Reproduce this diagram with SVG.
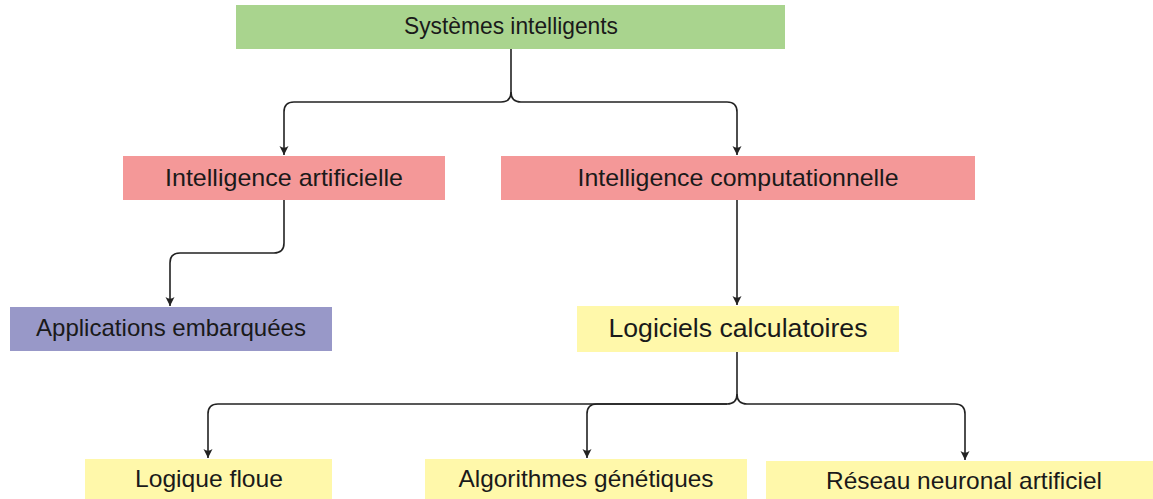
<svg xmlns="http://www.w3.org/2000/svg" width="1153" height="499" viewBox="0 0 1153 499">
<defs>
<style>
.t{font-family:"Liberation Sans","Noto Sans",sans-serif;font-size:24px;fill:#1a1a1a;text-anchor:middle}
.big{font-size:26.5px}
.c{fill:none;stroke:#222;stroke-width:1.6}
.green{fill:#a9d48e}
.red{fill:#f49898}
.purple{fill:#9898c8}
.yellow{fill:#fff8aa}
</style>
<marker id="arr" markerUnits="userSpaceOnUse" markerWidth="12" markerHeight="12" viewBox="-10 -6 12 12" refX="0" refY="0" orient="auto">
<path d="M0,0 L-9,-4.5 Q-5.5,0 -9,4.5 Z" fill="#222"/>
</marker>
</defs>
<rect width="1153" height="499" fill="#fff"/>
<g id="connectors">
<path class="c" d="M511,49 V92 Q511,102 501,102 H294 Q284,102 284,112 V155" marker-end="url(#arr)"/>
<path class="c" d="M511,92 Q511,102 521,102 H727 Q737,102 737,112 V155" marker-end="url(#arr)"/>
<path class="c" d="M284,200 V243 Q284,253 274,253 H180 Q170,253 170,263 V306" marker-end="url(#arr)"/>
<path class="c" d="M737,199 V305" marker-end="url(#arr)"/>
<path class="c" d="M737,352 V394 Q737,404 727,404 H218 Q208,404 208,414 V458" marker-end="url(#arr)"/>
<path class="c" d="M727,404 H597 Q587,404 587,414 V458" marker-end="url(#arr)"/>
<path class="c" d="M737,394 Q737,404 747,404 H955 Q965,404 965,414 V460" marker-end="url(#arr)"/>
</g>
<g id="n-systemes">
<rect class="green" x="236" y="5" width="549" height="44"/>
<text class="t" x="511" y="34" textLength="214" lengthAdjust="spacingAndGlyphs">Systèmes intelligents</text>
</g>
<g id="n-ia">
<rect class="red" x="123" y="156" width="322" height="44"/>
<text class="t" x="284" y="186" textLength="238" lengthAdjust="spacingAndGlyphs">Intelligence artificielle</text>
</g>
<g id="n-ic">
<rect class="red" x="501" y="156" width="474" height="44"/>
<text class="t" x="738" y="186" textLength="321" lengthAdjust="spacingAndGlyphs">Intelligence computationnelle</text>
</g>
<g id="n-apps">
<rect class="purple" x="10" y="307" width="322" height="44"/>
<text class="t" x="171" y="336" textLength="270" lengthAdjust="spacingAndGlyphs">Applications embarquées</text>
</g>
<g id="n-logiciels">
<rect class="yellow" x="577" y="306" width="322" height="46"/>
<text class="t big" x="738" y="337" textLength="259" lengthAdjust="spacingAndGlyphs">Logiciels calculatoires</text>
</g>
<g id="n-floue">
<rect class="yellow" x="85" y="459" width="247" height="44"/>
<text class="t" x="209" y="487" textLength="148" lengthAdjust="spacingAndGlyphs">Logique floue</text>
</g>
<g id="n-algo">
<rect class="yellow" x="425" y="459" width="322" height="44"/>
<text class="t" x="586" y="487" textLength="255" lengthAdjust="spacingAndGlyphs">Algorithmes génétiques</text>
</g>
<g id="n-reseau">
<rect class="yellow" x="766" y="461" width="396" height="44"/>
<text class="t" x="964" y="489" textLength="276" lengthAdjust="spacingAndGlyphs">Réseau neuronal artificiel</text>
</g>
</svg>
